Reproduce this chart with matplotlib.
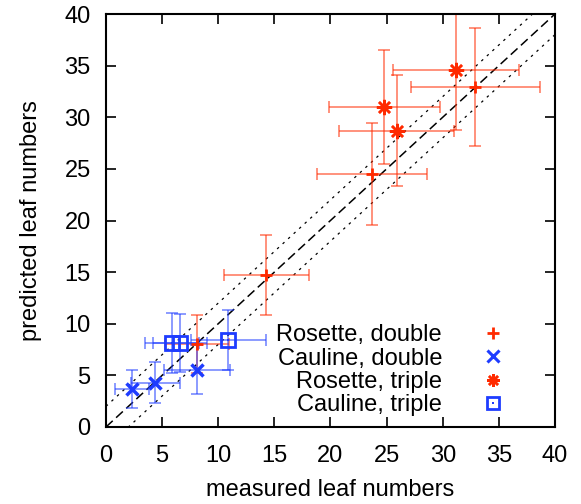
import numpy as np
import matplotlib
matplotlib.use("Agg")
import matplotlib.pyplot as plt
from matplotlib.lines import Line2D

plt.rcParams['font.family'] = ['Liberation Sans', 'DejaVu Sans']

# measured (x) vs predicted (y) leaf numbers, with error bars
rd_x = [14.3, 23.7, 32.9, 8.1]
rd_y = [14.7, 24.5, 32.9, 8.0]
rd_xerr = [3.8, 4.9, 5.75, 2.85]
rd_yerr = [3.85, 4.95, 5.7, 2.8]

cd_x = [2.3, 4.4, 8.1]
cd_y = [3.7, 4.3, 5.55]
cd_xerr = [1.5, 2.2, 2.95]
cd_yerr = [1.85, 2.0, 2.35]

rt_x = [24.8, 25.9, 31.2]
rt_y = [31.0, 28.7, 34.6]
rt_xerr = [4.95, 5.1, 5.6]
rt_yerr = [5.55, 5.35, 5.85]

ct_x = [5.9, 6.6, 10.9]
ct_y = [8.1, 8.1, 8.45]
ct_xerr = [2.4, 2.4, 3.35]
ct_yerr = [2.9, 2.8, 2.9]

labels = ['Rosette, double', 'Cauline, double', 'Rosette, triple', 'Cauline, triple']
red = '#ff2a00'
blue = '#1e3cff'
fs = 17

fig = plt.figure(figsize=(5.81, 5.04), dpi=100)
ax = fig.add_axes([0.1824, 0.1528, 0.7728, 0.8194])

diag = np.array([0, 40])
ax.plot(diag, diag, color='black', lw=1.1, dashes=(6, 3), zorder=1)
ax.plot(diag, diag + 2, color='black', lw=0.9, dashes=(2, 4), zorder=1)
ax.plot(diag, diag - 2, color='black', lw=0.9, dashes=(2, 4), zorder=1)

sets = [
    (rd_x, rd_y, rd_xerr, rd_yerr, red),
    (cd_x, cd_y, cd_xerr, cd_yerr, blue),
    (rt_x, rt_y, rt_xerr, rt_yerr, red),
    (ct_x, ct_y, ct_xerr, ct_yerr, blue),
]
for x, y, xe, ye, c in sets:
    ax.errorbar(x, y, xerr=xe, yerr=ye, fmt='none', ecolor=c, alpha=0.6,
                elinewidth=1.2, capsize=4, capthick=1.2, zorder=2)

ax.plot(rd_x, rd_y, ls='none', marker='+', ms=8, mew=2, color=red, zorder=3)
ax.plot(cd_x, cd_y, ls='none', marker='x', ms=9, mew=2.5, color=blue, zorder=3)
ax.plot(rt_x, rt_y, ls='none', marker=(8, 2, 0), ms=11, mew=1.8, color=red, zorder=3)
ax.plot(ct_x, ct_y, ls='none', marker='s', ms=10, mew=2, mfc='none', color=blue, zorder=3)
ax.plot(ct_x, ct_y, ls='none', marker='s', ms=2, mew=0, color=blue, zorder=3)

handles = [
    Line2D([], [], ls='none', marker='+', ms=8, mew=2, color=red),
    Line2D([], [], ls='none', marker='x', ms=8, mew=2.2, color=blue),
    Line2D([], [], ls='none', marker=(8, 2, 0), ms=9, mew=1.8, color=red),
    (Line2D([], [], ls='none', marker='s', ms=9, mew=2, mfc='none', color=blue),
     Line2D([], [], ls='none', marker='s', ms=2, mew=0, color=blue)),
]
ax.legend(handles, labels, loc='lower right', bbox_to_anchor=(0.941, -0.002),
          frameon=False, markerfirst=False, fontsize=fs, handlelength=2,
          handletextpad=1.16, labelspacing=0.05, borderpad=0)

ax.set_xlim(0, 40)
ax.set_ylim(0, 40)
ax.set_xticks(range(0, 41, 5))
ax.set_yticks(range(0, 41, 5))
ax.tick_params(direction='in', length=7, width=1.2, top=True, right=True,
               labelsize=fs)
ax.tick_params(axis='x', pad=13)
ax.tick_params(axis='y', pad=11)
for s in ax.spines.values():
    s.set_linewidth(1.5)
ax.set_xlabel('measured leaf numbers', fontsize=fs)
ax.set_ylabel('predicted leaf numbers', fontsize=fs)
ax.xaxis.set_label_coords(0.5, -0.127)
ax.yaxis.set_label_coords(-0.143, 0.5)

fig.savefig('out.png', dpi=100)
